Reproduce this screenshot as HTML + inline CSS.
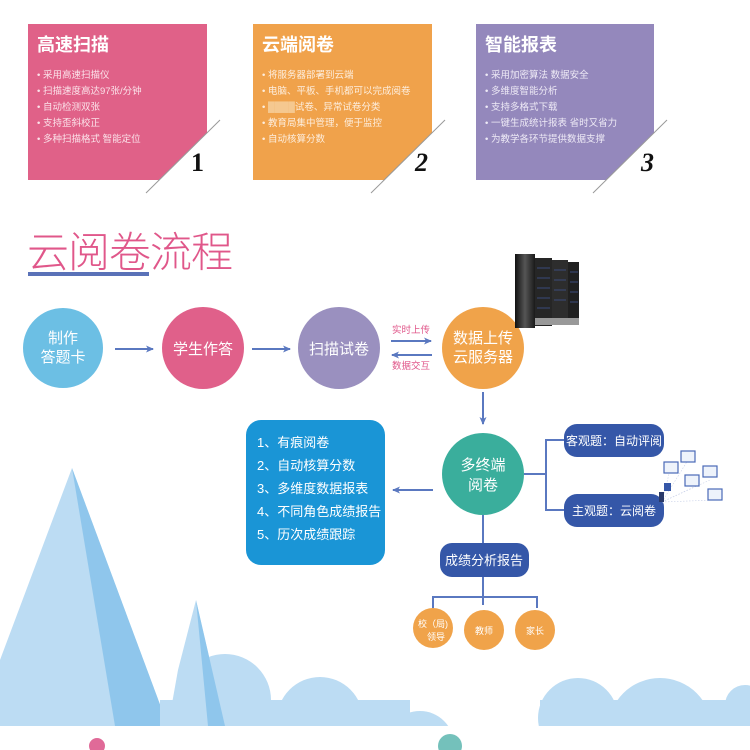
<!DOCTYPE html>
<html><head><meta charset="utf-8"><style>
html,body{margin:0;padding:0;background:#fff;}
svg{display:block;}
text{font-family:"Liberation Sans","Noto Sans CJK SC",sans-serif;}
</style></head><body>
<svg width="750" height="750" viewBox="0 0 750 750" xmlns="http://www.w3.org/2000/svg">
<defs>
<marker id="ar" markerWidth="8" markerHeight="8" refX="7" refY="4" orient="auto" markerUnits="userSpaceOnUse">
<path d="M0,0.5 L8,4 L0,7.5 L2,4 Z" fill="#5a78c0"/></marker>
<linearGradient id="sv" x1="0" x2="1"><stop offset="0" stop-color="#111"/><stop offset="0.5" stop-color="#555"/><stop offset="1" stop-color="#1a1a1a"/></linearGradient>
</defs>

<!-- cards -->
<g>
<polygon points="28,24 207,24 207,133 159,180 28,180" fill="#e06188"/>
<line x1="220" y1="120" x2="146" y2="193" stroke="#999" stroke-width="1"/>
<text x="37" y="51" font-size="18" font-weight="bold" fill="#fff">高速扫描</text>
<g font-size="9.5" fill="#fbe3ea">
<text x="37" y="78">• 采用高速扫描仪</text>
<text x="37" y="94">• 扫描速度高达97张/分钟</text>
<text x="37" y="110">• 自动检测双张</text>
<text x="37" y="126">• 支持歪斜校正</text>
<text x="37" y="142">• 多种扫描格式 智能定位</text>
</g>
<text x="191" y="171" font-size="26" font-weight="bold" style="font-family:'Liberation Serif',serif" fill="#111">1</text>
</g>
<g transform="translate(225,0)">
<polygon points="28,24 207,24 207,133 159,180 28,180" fill="#f0a24b"/>
<line x1="220" y1="120" x2="146" y2="193" stroke="#999" stroke-width="1"/>
<text x="37" y="51" font-size="18" font-weight="bold" fill="#fff">云端阅卷</text>
<g font-size="9.5" fill="#fdeede">
<text x="37" y="78">• 将服务器部署到云端</text>
<text x="37" y="94">• 电脑、平板、手机都可以完成阅卷</text>
<text x="37" y="110">• <tspan fill="#f5c890">████</tspan>试卷、异常试卷分类</text>
<text x="37" y="126">• 教育局集中管理，便于监控</text>
<text x="37" y="142">• 自动核算分数</text>
</g>
<text x="190" y="171" font-size="26" font-weight="bold" font-style="italic" style="font-family:'Liberation Serif',serif" fill="#111">2</text>
</g>
<g transform="translate(448,0)">
<polygon points="28,24 206,24 206,133 158,180 28,180" fill="#9488bc"/>
<line x1="219" y1="120" x2="145" y2="193" stroke="#999" stroke-width="1"/>
<text x="37" y="51" font-size="18" font-weight="bold" fill="#fff">智能报表</text>
<g font-size="9.5" fill="#eeeaf6">
<text x="37" y="78">• 采用加密算法 数据安全</text>
<text x="37" y="94">• 多维度智能分析</text>
<text x="37" y="110">• 支持多格式下载</text>
<text x="37" y="126">• 一键生成统计报表 省时又省力</text>
<text x="37" y="142">• 为教学各环节提供数据支撑</text>
</g>
<text x="193" y="171" font-size="26" font-weight="bold" font-style="italic" style="font-family:'Liberation Serif',serif" fill="#111">3</text>
</g>

<!-- title -->
<text x="27" y="267" font-size="42" fill="#e0578a" font-weight="300" letter-spacing="-1">云阅卷流程</text>
<rect x="28" y="272" width="121" height="4" fill="#5a72b8"/>

<!-- mountains / clouds -->
<polygon points="72,468 0,660 0,726 168,726" fill="#bcdcf3"/>
<polygon points="72,468 115,726 168,726" fill="#8fc6ec"/>
<g fill="#bcdcf3">
<circle cx="225" cy="700" r="46"/>
<circle cx="320" cy="720" r="43"/>
<circle cx="420" cy="745" r="34"/>
<rect x="160" y="700" width="250" height="26"/>
</g>
<polygon points="196,600 178,670 168,726 225,726" fill="#bcdcf3"/>
<polygon points="196,600 208,726 225,726" fill="#8fc6ec"/>
<g fill="#bcdcf3">
<circle cx="578" cy="718" r="40"/>
<circle cx="660" cy="730" r="52"/>
<circle cx="745" cy="705" r="20"/>
<rect x="540" y="700" width="210" height="26"/>
</g>
<rect x="0" y="726" width="750" height="24" fill="#fff"/>
<circle cx="97" cy="746" r="8" fill="#e06a98"/>
<circle cx="450" cy="746" r="12" fill="#74c1bb"/>

<!-- flow row -->
<circle cx="63" cy="348" r="40" fill="#6cbfe4"/>
<text x="63" y="343" font-size="15" fill="#fff" text-anchor="middle">制作</text>
<text x="63" y="362" font-size="15" fill="#fff" text-anchor="middle">答题卡</text>
<circle cx="203" cy="348" r="41" fill="#e0608a"/>
<text x="203" y="354" font-size="15" fill="#fff" text-anchor="middle">学生作答</text>
<circle cx="339" cy="348" r="41" fill="#9a90bf"/>
<text x="339" y="354" font-size="15" fill="#fff" text-anchor="middle">扫描试卷</text>
<circle cx="483" cy="348" r="41" fill="#f0a34a"/>
<text x="483" y="343" font-size="15" fill="#fff" text-anchor="middle">数据上传</text>
<text x="483" y="362" font-size="15" fill="#fff" text-anchor="middle">云服务器</text>
<g stroke="#5a78c0" stroke-width="2" fill="none">
<line x1="115" y1="349" x2="153" y2="349" marker-end="url(#ar)"/>
<line x1="252" y1="349" x2="290" y2="349" marker-end="url(#ar)"/>
<line x1="391" y1="341" x2="431" y2="341" marker-end="url(#ar)"/>
<line x1="432" y1="355" x2="392" y2="355" marker-end="url(#ar)"/>
<line x1="483" y1="392" x2="483" y2="424" marker-end="url(#ar)"/>
<line x1="433" y1="490" x2="393" y2="490" marker-end="url(#ar)"/>
<polyline points="524,474 546,474"/>
<polyline points="564,440 546,440 546,510 564,510"/>
<line x1="483" y1="515" x2="483" y2="543"/>
<line x1="483" y1="577" x2="483" y2="605"/>
<polyline points="433,608 433,597 537,597 537,608"/>
</g>
<text x="411" y="333" font-size="9.5" fill="#e0578a" text-anchor="middle">实时上传</text>
<text x="411" y="369" font-size="9.5" fill="#e0578a" text-anchor="middle">数据交互</text>

<!-- server -->
<g>
<rect x="515" y="254" width="20" height="74" fill="url(#sv)"/>
<rect x="535" y="258" width="17" height="68" fill="#262626"/>
<rect x="552" y="260" width="16" height="65" fill="#2d2d2d"/>
<rect x="568" y="262" width="11" height="62" fill="#202020"/>
<g stroke="#3a4a7a" stroke-width="1">
<line x1="537" y1="268" x2="550" y2="268"/><line x1="537" y1="278" x2="550" y2="278"/><line x1="537" y1="288" x2="550" y2="288"/><line x1="537" y1="298" x2="550" y2="298"/><line x1="537" y1="308" x2="550" y2="308"/>
<line x1="554" y1="270" x2="566" y2="270"/><line x1="554" y1="280" x2="566" y2="280"/><line x1="554" y1="290" x2="566" y2="290"/><line x1="554" y1="300" x2="566" y2="300"/>
<line x1="570" y1="272" x2="578" y2="272"/><line x1="570" y1="282" x2="578" y2="282"/><line x1="570" y1="292" x2="578" y2="292"/><line x1="570" y1="302" x2="578" y2="302"/>
</g>
<rect x="535" y="318" width="44" height="7" fill="#999"/>
</g>

<!-- blue list box -->
<rect x="246" y="420" width="139" height="145" rx="15" fill="#1a95d6"/>
<g font-size="13" fill="#fff">
<text x="257" y="447">1、有痕阅卷</text>
<text x="257" y="470">2、自动核算分数</text>
<text x="257" y="493">3、多维度数据报表</text>
<text x="257" y="516">4、不同角色成绩报告</text>
<text x="257" y="539">5、历次成绩跟踪</text>
</g>

<circle cx="483" cy="474" r="41" fill="#3aae9c"/>
<text x="483" y="470" font-size="15" fill="#fff" text-anchor="middle">多终端</text>
<text x="483" y="490" font-size="15" fill="#fff" text-anchor="middle">阅卷</text>

<rect x="564" y="424" width="100" height="33" rx="13" fill="#3557a8"/>
<text x="614" y="445" font-size="12" fill="#fff" text-anchor="middle">客观题：自动评阅</text>
<rect x="564" y="494" width="100" height="33" rx="13" fill="#3557a8"/>
<text x="614" y="515" font-size="12" fill="#fff" text-anchor="middle">主观题：云阅卷</text>
<rect x="440" y="543" width="89" height="34" rx="12" fill="#3557a8"/>
<text x="484" y="565" font-size="13" fill="#fff" text-anchor="middle">成绩分析报告</text>

<circle cx="433" cy="628" r="20" fill="#f0a34a"/>
<text x="433" y="627" font-size="9" fill="#fff" text-anchor="middle">校（局)</text>
<text x="436" y="640" font-size="9" fill="#fff" text-anchor="middle">领导</text>
<circle cx="484" cy="630" r="20" fill="#f0a34a"/>
<text x="484" y="634" font-size="9" fill="#fff" text-anchor="middle">教师</text>
<circle cx="535" cy="630" r="20" fill="#f0a34a"/>
<text x="535" y="634" font-size="9" fill="#fff" text-anchor="middle">家长</text>

<!-- monitors -->
<g stroke="#c8d0e8" stroke-width="0.6" stroke-dasharray="1.5,1.5" fill="none">
<line x1="662" y1="502" x2="670" y2="470"/><line x1="662" y1="502" x2="688" y2="460"/>
<line x1="662" y1="502" x2="710" y2="480"/><line x1="662" y1="502" x2="694" y2="487"/><line x1="662" y1="502" x2="715" y2="500"/>
</g>
<g fill="#eef3fb" stroke="#4a6ab8" stroke-width="1.2">
<rect x="664" y="462" width="14" height="11"/>
<rect x="681" y="451" width="14" height="11"/>
<rect x="703" y="466" width="14" height="11"/>
<rect x="685" y="475" width="14" height="11"/>
<rect x="708" y="489" width="14" height="11"/>
</g>
<rect x="664" y="483" width="7" height="8" fill="#3557a8"/>
<rect x="659" y="492" width="5" height="10" fill="#2a3a6a"/>
</svg>
</body></html>
